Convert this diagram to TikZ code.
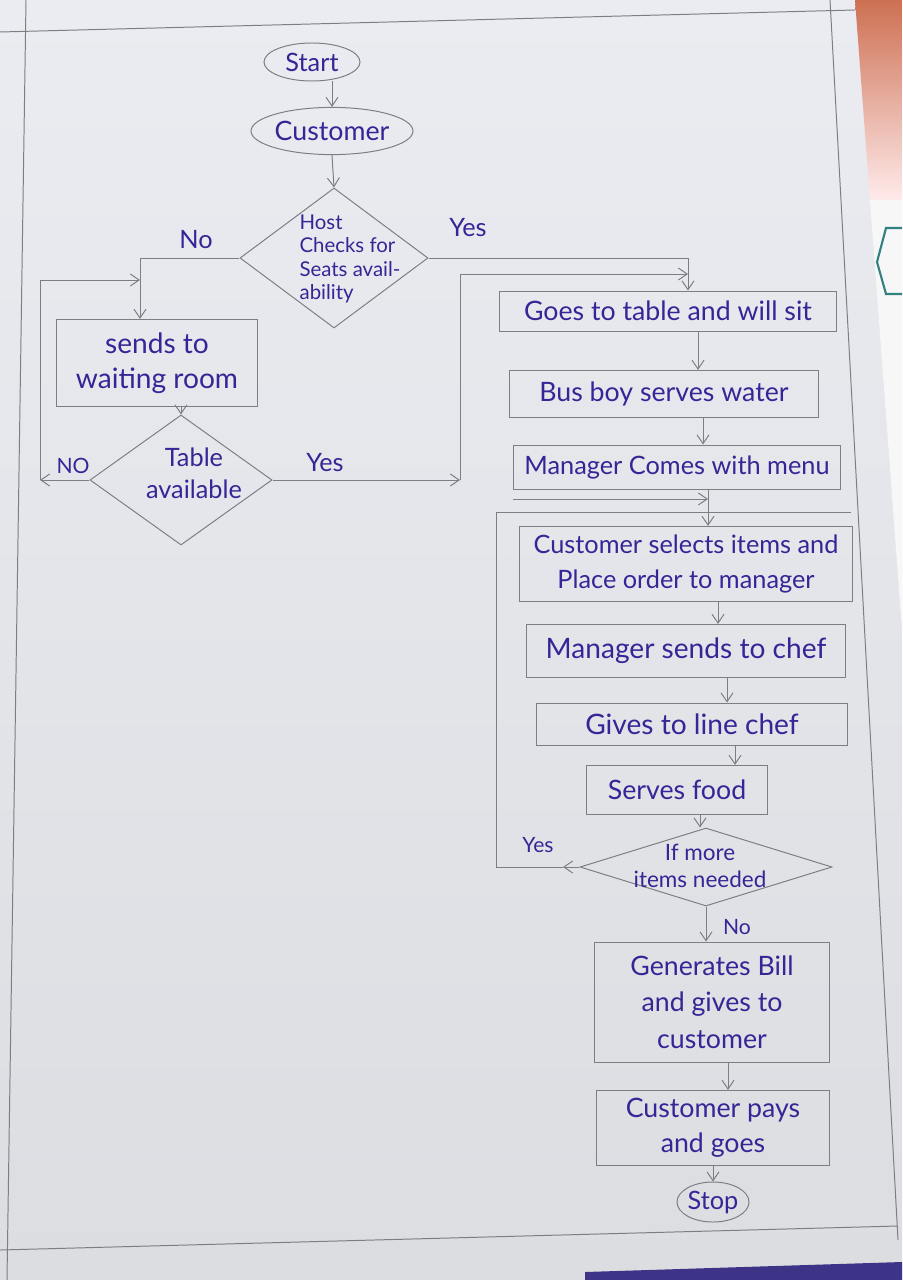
\documentclass[tikz,border=0pt]{standalone}
\usepackage{fontspec}
\setmainfont{Lato}
\usetikzlibrary{shapes.geometric,arrows.meta}

\begin{document}
\begin{tikzpicture}[x=0.025cm,y=-0.025cm,>={Straight Barb[length=2.2mm,width=3mm]}]
% Colors
\definecolor{paper}{RGB}{234,236,241}
\definecolor{paperlow}{RGB}{219,221,225}
\definecolor{pencil}{RGB}{125,125,130}
\definecolor{inkblue}{RGB}{52,38,150}
\definecolor{deskorange}{RGB}{205,112,82}
\definecolor{deskblue}{RGB}{62,52,135}
% Styles
\tikzstyle{pencil line}=[draw=pencil,line width=0.7pt]
\tikzstyle{ink}=[text=inkblue,font=\fontsize{18}{25}\selectfont,align=center]
\tikzstyle{terminal}=[ellipse,pencil line,ink,inner sep=0pt]
\tikzstyle{process}=[rectangle,pencil line,ink]
\tikzstyle{decision}=[diamond,pencil line,inner sep=0pt]
\tikzstyle{flow}=[pencil line,->]
\useasboundingbox (0,0) rectangle (902,1280);
% The sheet and the desk
\shade[top color=paper,bottom color=paperlow] (0,0) rectangle (902,1280);
\shade[top color=deskorange,bottom color=red!8!white] (855,0) -- (902,0) -- (902,200) -- (870,200) -- cycle;
\fill[gray!6] (870,200) -- (902,200) -- (902,630) -- cycle;
\draw[teal!60!gray,line width=1.5pt] (902,228) -- (886,228) -- (877,262) -- (886,294) -- (902,294);
\fill[deskblue] (585,1272) -- (902,1262) -- (902,1280) -- (585,1280) -- cycle;
\draw[pencil line] (26,0) -- (7,1280);
\draw[pencil line] (0,32) -- (855,10);
\draw[pencil line] (830,0) -- (898,1240);
\draw[pencil line] (0,1250) -- (898,1226);
% Left part
\node[terminal,minimum width=2.4cm,minimum height=0.95cm] (start) at (312,62) {Start};
\node[terminal,minimum width=3.5cm,minimum height=1.18cm,font=\fontsize{19}{25}\selectfont] (customer) at (332,131) {Customer};
\node[decision,minimum width=4.7cm,minimum height=3.5cm] (host) at (334,258) {};
\node[ink,align=left,font=\fontsize{14.5}{16.5}\selectfont] (hosttext) at (350,259) {Host\\Checks for\\Seats avail-\\ability};
\node[process,minimum width=5.03cm,minimum height=2.18cm,font=\fontsize{20}{25}\selectfont] (wait) at (157,363) {sends to\\waiting room};
\node[decision,minimum width=4.55cm,minimum height=3.25cm] (table) at (181,480) {};
\node[ink,font=\fontsize{18}{23}\selectfont] (tabletext) at (194,473) {Table\\available};
\node[ink] (hostno) at (196,240) {No};
\node[ink] (hostyes) at (468,228) {Yes};
\node[ink,font=\fontsize{15}{18}\selectfont] (tableno) at (73,466) {NO};
\node[ink] (tableyes) at (325,463) {Yes};
% Right part
\node[process,minimum width=8.43cm,minimum height=1.0cm,font=\fontsize{19}{25}\selectfont] (goes) at (668,311) {Goes to table and will sit};
\node[process,minimum width=7.7cm,minimum height=1.18cm,font=\fontsize{19}{25}\selectfont] (busboy) at (664,394) {Bus boy serves water};
\node[process,minimum width=8.15cm,minimum height=1.1cm] (menu) at (677,467) {Manager Comes with menu};
\node[process,minimum width=8.3cm,minimum height=1.88cm] (order) at (686,564) {Customer selects items and\\Place order to manager};
\node[process,minimum width=7.95cm,minimum height=1.33cm,font=\fontsize{20}{25}\selectfont] (chef) at (686,651) {Manager sends to chef};
\node[process,minimum width=7.78cm,minimum height=1.05cm,font=\fontsize{20}{25}\selectfont] (linechef) at (692,724) {Gives to line chef};
\node[process,minimum width=4.53cm,minimum height=1.23cm,font=\fontsize{19}{25}\selectfont] (food) at (677,790) {Serves food};
\node[decision,minimum width=6.3cm,minimum height=1.95cm] (more) at (706,867) {};
\node[ink,font=\fontsize{16}{19}\selectfont] (moretext) at (700,866) {If more\\items needed};
\node[process,minimum width=5.88cm,minimum height=3.0cm,font=\fontsize{19}{26}\selectfont] (bill) at (712,1002) {Generates Bill\\and gives to\\customer};
\node[process,minimum width=5.83cm,minimum height=1.88cm,font=\fontsize{19}{25}\selectfont] (pays) at (713,1128) {Customer pays\\and goes};
\node[terminal,minimum width=1.8cm,minimum height=1.0cm] (stop) at (713,1202) {Stop};
\node[ink,font=\fontsize{15}{18}\selectfont] (moreyes) at (538,845) {Yes};
\node[ink,font=\fontsize{15}{18}\selectfont] (moreno) at (737,927) {No};
% Turning points
\coordinate (nojoin) at (140,258);
\coordinate (noturn) at (40,480);
\coordinate (loopa) at (40,280);
\coordinate (yesjoin) at (460,480);
\coordinate (yestop) at (460,274);
\coordinate (spine) at (688,0);
\coordinate (joinb) at (708,499);
\coordinate (yesarrow) at (563,867);
\coordinate (loopb) at (496,867);
\coordinate (loopc) at (496,512);
\coordinate (loopd) at (851,512);
% Connectors
\draw[flow] (customer.north |- start.south) -- (customer.north);
\draw[flow] (customer.south) -- (host.north);
\draw[flow] (host.west) -- (nojoin) -- (nojoin |- wait.north);
\draw[flow] (table.north |- wait.south) -- (table.north);
\draw[flow] (table.west) -- (noturn);
\draw[flow] (noturn) -- (loopa) -- (loopa -| nojoin);
\draw[flow] (table.east) -- (yesjoin);
\draw[flow] (yesjoin) -- (yestop) -- (yestop -| spine);
\draw[flow] (host.east) -- (host.east -| spine) -- (goes.north -| spine);
\foreach \a/\b/\x in {goes/busboy/698, busboy/menu/703, menu/order/708, order/chef/718, chef/linechef/727, linechef/food/735, food/more/700, bill/pays/728}
  \draw[flow] (\a.south -| \x,0) -- (\b.north -| \x,0);
\draw[flow] (more.south) -- (bill.north -| more.south);
\draw[flow] (stop.north |- pays.south) -- (stop.north);
\draw[flow] (menu.south west |- joinb) -- (joinb);
\draw[flow] (more.west) -- (yesarrow);
\draw[pencil line] (yesarrow) -- (loopb) -- (loopc) -- (loopd);
\end{tikzpicture}
\end{document}
